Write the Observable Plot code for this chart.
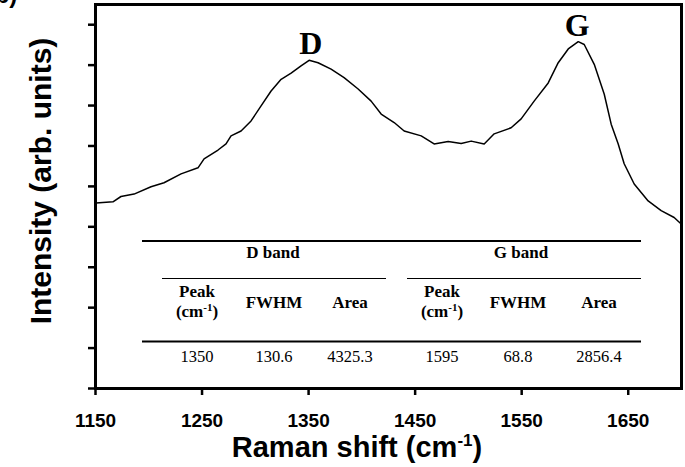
<!DOCTYPE html>
<html><head><meta charset="utf-8">
<script src="https://cdn.jsdelivr.net/npm/d3@7"></script>
<script src="https://cdn.jsdelivr.net/npm/@observablehq/plot@0.6"></script>
<style>
html,body{margin:0;padding:0;background:#fff;}
#chart{position:relative;width:685px;height:467px;overflow:hidden;}
</style></head><body><div id="chart"></div>
<script>
// Raman spectrum
const ramanShift = [1150.5,1166.4,1173.9,1186.2,1202.1,1214.3,1230.3,1246.2,1251.9,1265.0,1272.5,1277.2,1286.6,1296.0,1305.4,1314.8,1324.2,1333.6,1342.9,1350.5,1358.9,1371.1,1383.3,1396.5,1408.7,1418.1,1430.3,1439.7,1455.7,1467.8,1481.0,1493.2,1502.6,1514.8,1524.2,1540.1,1549.5,1561.7,1574.9,1584.3,1593.7,1603.1,1608.7,1618.1,1627.5,1634.0,1640.6,1646.2,1655.6,1668.7,1680.9,1693.1,1699.7];
const intensity = [4.59,4.62,4.75,4.81,4.99,5.09,5.31,5.46,5.68,5.90,6.05,6.25,6.37,6.62,6.99,7.36,7.65,7.80,7.98,8.12,8.06,7.90,7.69,7.41,7.11,6.79,6.58,6.37,6.25,6.05,6.11,6.06,6.12,6.05,6.30,6.45,6.67,7.11,7.56,8.06,8.40,8.58,8.51,8.02,7.28,6.54,6.05,5.56,5.06,4.64,4.40,4.23,4.07];
const xTicks = [1150,1250,1350,1450,1550,1650];
const yTicks = [0,1,2,3,4,5,6,7,8,9];
const bandNames = ["D","G"];
const bandLabelShift = [1352,1602];
// inset table
const tableBands = ["D band","G band"];
const tableHeaders = ["Peak","FWHM","Area"];
const dBandValues = ["1350","130.6","4325.3"];
const gBandValues = ["1595","68.8","2856.4"];

const data = ramanShift.map((x,i)=>({x, y:intensity[i]}));
const labels = bandNames.map((name,i)=>{
  const x = bandLabelShift[i];
  const near = data.filter(d=>Math.abs(d.x-x)<12);
  return {name, x, y: d3.max(near,d=>d.y)};
});

const plot = Plot.plot({
  width:685, height:467, marginLeft:95, marginRight:4, marginTop:4, marginBottom:79,
  x:{domain:[1150,1700]}, y:{domain:[0,9.5]},
  style:{background:"white", color:"black", fontFamily:"Liberation Sans, Arial, sans-serif"},
  marks:[
    Plot.line(data,{x:"x",y:"y",stroke:"black",strokeWidth:1.5}),
    Plot.text(labels,{x:"x",y:"y",text:"name",lineAnchor:"bottom",dy:-6,fontSize:32,fontWeight:"bold",fontFamily:"Liberation Serif, Times New Roman, serif"}),
    Plot.axisX({ticks:xTicks, tickFormat:d=>String(d), tickSize:7, tickPadding:18, strokeWidth:2.5, fontSize:19, fontWeight:"bold", label:null}),
    Plot.axisY({ticks:yTicks, tickSize:7, tickFormat:()=>"", strokeWidth:2.5, label:null}),
    Plot.frame({stroke:"black", strokeWidth:3})
  ]
});
document.getElementById("chart").appendChild(plot);

const svg = d3.select(plot);
const sans = "Liberation Sans, Arial, sans-serif";
const serif = "Liberation Serif, Times New Roman, serif";

// panel letter (cut off at top, as in the original figure)
svg.append("text").attr("x",2).attr("y",3).attr("font-family",sans).attr("font-weight","bold")
  .attr("font-size",24).attr("fill","black").text("(b)");

// axis titles
const xl = svg.append("text").attr("x",357).attr("y",457).attr("text-anchor","middle")
  .attr("font-family",sans).attr("font-weight","bold").attr("font-size",29).attr("fill","black");
xl.append("tspan").text("Raman shift (cm");
xl.append("tspan").attr("dy",-11).attr("font-size",17).text("-1");
xl.append("tspan").attr("dy",11).text(")");

svg.append("text").attr("transform","translate(51,181) rotate(-90)").attr("text-anchor","middle")
  .attr("font-family",sans).attr("font-weight","bold").attr("font-size",30).attr("fill","black")
  .text("Intensity (arb. units)");

// inset table
const colX = [197,274,350,442,518,599];
const g = svg.append("g").attr("fill","black");
const hline = (x1,x2,y,w)=>g.append("line").attr("x1",x1).attr("x2",x2).attr("y1",y).attr("y2",y).attr("stroke","black").attr("stroke-width",w);
hline(142,641,241,2);
hline(162,386,278.5,1.2);
hline(407,641,278.5,1.2);
hline(142,641,341.5,2);
const bandCenter = [273,521];
tableBands.forEach((b,i)=>{
  g.append("text").attr("x",bandCenter[i]).attr("y",258).attr("text-anchor","middle")
    .attr("font-family",serif).attr("font-weight","bold").attr("font-size",17).text(b);
});
[0,1].forEach(bi=>{
  tableHeaders.forEach((h,j)=>{
    const x = colX[bi*3+j];
    if (h==="Peak"){
      g.append("text").attr("x",x).attr("y",296.5).attr("text-anchor","middle")
        .attr("font-family",serif).attr("font-weight","bold").attr("font-size",17).text(h);
      const t = g.append("text").attr("x",x).attr("y",316.5).attr("text-anchor","middle")
        .attr("font-family",serif).attr("font-weight","bold").attr("font-size",17);
      t.append("tspan").text("(cm");
      t.append("tspan").attr("dy",-6).attr("font-size",11).text("-1");
      t.append("tspan").attr("dy",6).text(")");
    } else {
      g.append("text").attr("x",x).attr("y",307.5).attr("text-anchor","middle")
        .attr("font-family",serif).attr("font-weight","bold").attr("font-size",17).text(h);
    }
  });
  const vals = bi===0 ? dBandValues : gBandValues;
  vals.forEach((v,j)=>{
    g.append("text").attr("x",colX[bi*3+j]).attr("y",361.5).attr("text-anchor","middle")
      .attr("font-family",serif).attr("font-size",16.5).text(v);
  });
});
</script></body></html>
